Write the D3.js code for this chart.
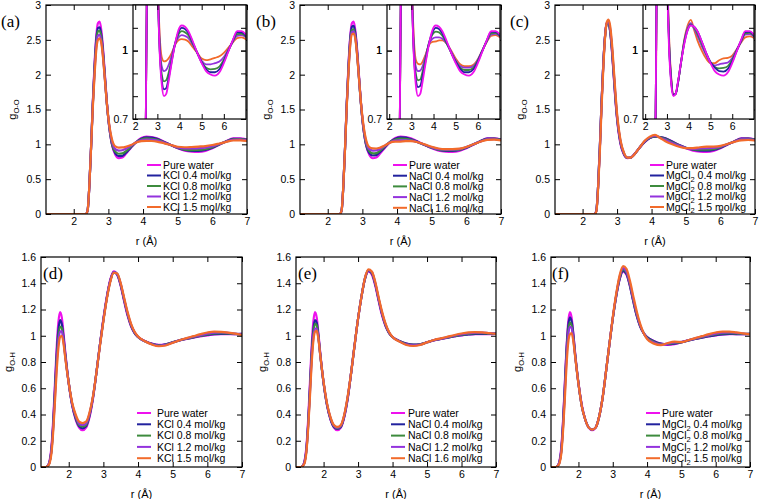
<!DOCTYPE html>
<html><head><meta charset="utf-8">
<script src="https://cdn.jsdelivr.net/npm/d3@7"></script>
<style>body{margin:0;background:#fff}svg{display:block}</style>
</head><body>
<script>
// ---------------- DATA ----------------
const rOO = [1.2,2.35,2.4,2.45,2.5,2.55,2.6,2.65,2.7,2.75,2.8,2.85,2.9,2.95,3.0,3.1,3.2,3.3,3.4,3.5,3.65,3.8,3.95,4.1,4.25,4.4,4.6,4.8,5.0,5.2,5.4,5.6,5.8,6.0,6.2,6.4,6.6,6.8,7.0];
const rOH = [1.2,1.35,1.4,1.45,1.5,1.55,1.6,1.65,1.7,1.75,1.8,1.85,1.9,2.0,2.1,2.2,2.3,2.4,2.5,2.6,2.7,2.8,2.9,3.0,3.1,3.2,3.3,3.4,3.5,3.6,3.7,3.8,3.9,4.0,4.2,4.4,4.6,4.8,5.0,5.2,5.4,5.6,5.8,6.0,6.2,6.4,6.6,6.8,7.0];

const pureOO  = [0,0,0.05,0.4,0.95,1.6,2.15,2.55,2.74,2.76,2.62,2.35,2.0,1.65,1.36,1.0,0.85,0.80,0.81,0.86,0.95,1.03,1.09,1.11,1.105,1.085,1.04,0.99,0.945,0.91,0.895,0.89,0.905,0.945,0.995,1.045,1.085,1.085,1.07];
const kcl04OO = [0,0,0.05,0.4,0.95,1.58,2.1,2.5,2.67,2.68,2.56,2.3,1.97,1.63,1.36,1.01,0.87,0.83,0.835,0.875,0.955,1.03,1.08,1.10,1.095,1.078,1.035,0.99,0.948,0.918,0.905,0.905,0.918,0.952,0.998,1.043,1.08,1.08,1.065];
const kcl08OO = [0,0,0.05,0.4,0.95,1.57,2.07,2.45,2.62,2.63,2.52,2.27,1.95,1.62,1.36,1.02,0.895,0.865,0.87,0.9,0.965,1.03,1.07,1.085,1.08,1.068,1.03,0.99,0.95,0.925,0.918,0.92,0.93,0.96,1.0,1.04,1.072,1.074,1.062];
const kcl12OO = [0,0,0.05,0.4,0.95,1.55,2.03,2.4,2.56,2.57,2.47,2.24,1.93,1.62,1.37,1.05,0.93,0.91,0.915,0.935,0.98,1.03,1.058,1.068,1.064,1.055,1.025,0.99,0.955,0.94,0.94,0.945,0.952,0.972,1.005,1.038,1.065,1.068,1.058];
const kcl15OO = [0,0,0.05,0.4,0.94,1.52,1.98,2.35,2.5,2.52,2.44,2.22,1.92,1.62,1.38,1.08,0.97,0.953,0.955,0.965,0.99,1.025,1.045,1.05,1.048,1.04,1.015,0.99,0.965,0.958,0.962,0.968,0.975,0.99,1.012,1.035,1.055,1.058,1.05];

const nacl04OO = [0,0,0.05,0.4,0.95,1.59,2.12,2.52,2.69,2.70,2.58,2.32,1.98,1.64,1.36,1.01,0.875,0.84,0.845,0.885,0.96,1.035,1.08,1.1,1.095,1.075,1.035,0.99,0.95,0.92,0.905,0.905,0.918,0.952,0.998,1.043,1.082,1.082,1.066];
const nacl08OO = [0,0,0.05,0.4,0.95,1.58,2.09,2.48,2.64,2.65,2.54,2.29,1.96,1.63,1.36,1.02,0.9,0.87,0.873,0.905,0.97,1.035,1.07,1.083,1.08,1.065,1.03,0.99,0.952,0.925,0.915,0.915,0.925,0.957,1.0,1.042,1.076,1.078,1.064];
const nacl12OO = [0,0,0.05,0.4,0.95,1.57,2.07,2.45,2.61,2.62,2.52,2.28,1.96,1.64,1.38,1.05,0.93,0.91,0.912,0.93,0.98,1.03,1.052,1.058,1.058,1.052,1.03,0.995,0.958,0.932,0.925,0.925,0.932,0.96,1.0,1.04,1.07,1.073,1.062];
const nacl16OO = [0,0,0.05,0.4,0.94,1.55,2.04,2.42,2.58,2.59,2.5,2.27,1.96,1.65,1.4,1.08,0.96,0.942,0.94,0.95,0.985,1.025,1.038,1.04,1.045,1.045,1.03,1.0,0.965,0.94,0.932,0.932,0.938,0.962,1.0,1.038,1.065,1.068,1.058];

const mg04OO = [0,0,0.05,0.4,0.95,1.6,2.15,2.55,2.73,2.74,2.62,2.36,2.02,1.67,1.38,1.02,0.86,0.805,0.81,0.855,0.95,1.035,1.09,1.112,1.105,1.085,1.04,0.99,0.95,0.925,0.91,0.908,0.92,0.952,0.998,1.042,1.081,1.082,1.066];
const mg08OO = [0,0,0.05,0.4,0.95,1.6,2.14,2.54,2.73,2.75,2.63,2.38,2.04,1.69,1.39,1.03,0.865,0.805,0.81,0.855,0.95,1.04,1.095,1.115,1.1,1.075,1.03,0.985,0.948,0.928,0.922,0.924,0.932,0.96,1.0,1.04,1.076,1.078,1.064];
const mg12OO = [0,0,0.05,0.39,0.93,1.58,2.13,2.54,2.74,2.77,2.66,2.41,2.07,1.72,1.41,1.04,0.87,0.808,0.81,0.855,0.95,1.045,1.1,1.12,1.095,1.065,1.02,0.98,0.946,0.935,0.94,0.944,0.948,0.968,1.003,1.038,1.07,1.072,1.06];
const mg15OO = [0,0,0.04,0.36,0.88,1.52,2.08,2.52,2.75,2.79,2.7,2.46,2.12,1.76,1.44,1.06,0.88,0.81,0.81,0.855,0.95,1.05,1.11,1.135,1.09,1.045,1.0,0.965,0.945,0.945,0.958,0.966,0.968,0.978,1.005,1.035,1.058,1.062,1.055];

const pureOH  = [0,0,0.01,0.05,0.15,0.35,0.62,0.9,1.1,1.18,1.14,1.02,0.88,0.64,0.47,0.36,0.3,0.28,0.3,0.38,0.52,0.72,0.93,1.13,1.3,1.43,1.49,1.465,1.38,1.26,1.15,1.07,1.02,0.99,0.96,0.94,0.93,0.935,0.95,0.965,0.975,0.985,0.995,1.003,1.01,1.013,1.012,1.012,1.015];
const kcl04OH = [0,0,0.01,0.04,0.13,0.32,0.58,0.85,1.04,1.12,1.09,0.99,0.86,0.64,0.47,0.37,0.31,0.295,0.31,0.39,0.53,0.72,0.93,1.12,1.29,1.42,1.485,1.465,1.385,1.27,1.16,1.075,1.02,0.99,0.958,0.938,0.928,0.935,0.95,0.965,0.977,0.988,0.998,1.006,1.012,1.015,1.014,1.013,1.014];
const kcl08OH = [0,0,0.01,0.04,0.12,0.3,0.55,0.81,0.99,1.07,1.06,0.97,0.85,0.64,0.48,0.38,0.32,0.31,0.32,0.4,0.53,0.72,0.93,1.12,1.29,1.42,1.485,1.47,1.39,1.275,1.165,1.08,1.025,0.99,0.958,0.937,0.926,0.933,0.95,0.966,0.978,0.99,1.0,1.01,1.017,1.02,1.018,1.014,1.012];
const kcl12OH = [0,0,0.01,0.04,0.12,0.29,0.52,0.77,0.95,1.03,1.035,0.96,0.84,0.64,0.48,0.39,0.33,0.32,0.33,0.405,0.535,0.72,0.93,1.12,1.29,1.42,1.485,1.47,1.395,1.28,1.17,1.085,1.028,0.992,0.958,0.935,0.924,0.93,0.948,0.966,0.98,0.993,1.005,1.016,1.024,1.026,1.022,1.016,1.01];
const kcl15OH = [0,0,0.01,0.03,0.1,0.26,0.48,0.72,0.9,0.99,1.0,0.94,0.83,0.64,0.49,0.4,0.345,0.335,0.345,0.415,0.54,0.72,0.92,1.11,1.28,1.41,1.48,1.475,1.4,1.29,1.18,1.09,1.03,0.994,0.958,0.933,0.92,0.926,0.946,0.966,0.982,0.997,1.012,1.025,1.032,1.03,1.024,1.016,1.005];

const nacl04OH = [0,0,0.01,0.04,0.13,0.32,0.58,0.85,1.04,1.12,1.1,1.0,0.87,0.64,0.47,0.365,0.305,0.29,0.305,0.385,0.525,0.72,0.93,1.13,1.3,1.435,1.495,1.475,1.39,1.27,1.16,1.075,1.02,0.99,0.96,0.94,0.932,0.935,0.95,0.966,0.976,0.986,0.996,1.005,1.01,1.014,1.015,1.015,1.016];
const nacl08OH = [0,0,0.01,0.04,0.12,0.31,0.56,0.83,1.01,1.09,1.08,0.99,0.86,0.64,0.475,0.37,0.31,0.295,0.31,0.39,0.53,0.72,0.93,1.13,1.3,1.435,1.498,1.48,1.395,1.275,1.165,1.08,1.022,0.99,0.958,0.937,0.93,0.934,0.95,0.966,0.977,0.988,0.998,1.008,1.015,1.019,1.02,1.018,1.016];
const nacl12OH = [0,0,0.01,0.04,0.12,0.3,0.54,0.8,0.98,1.055,1.055,0.98,0.86,0.645,0.48,0.375,0.315,0.3,0.315,0.395,0.535,0.72,0.93,1.13,1.3,1.44,1.5,1.485,1.4,1.28,1.17,1.085,1.025,0.99,0.957,0.934,0.927,0.932,0.95,0.967,0.978,0.99,1.002,1.012,1.02,1.024,1.024,1.02,1.016];
const nacl16OH = [0,0,0.01,0.03,0.11,0.28,0.51,0.77,0.95,1.03,1.04,0.975,0.86,0.65,0.485,0.38,0.32,0.305,0.32,0.4,0.54,0.72,0.93,1.13,1.3,1.44,1.505,1.49,1.41,1.29,1.18,1.09,1.028,0.99,0.955,0.93,0.922,0.93,0.95,0.968,0.98,0.993,1.006,1.017,1.025,1.028,1.026,1.02,1.014];

const mg04OH = [0,0,0.01,0.04,0.13,0.33,0.6,0.88,1.07,1.14,1.11,1.01,0.87,0.64,0.46,0.36,0.3,0.285,0.3,0.38,0.52,0.72,0.93,1.13,1.3,1.43,1.495,1.47,1.38,1.26,1.15,1.07,1.02,0.99,0.958,0.94,0.935,0.94,0.95,0.963,0.975,0.986,0.996,1.005,1.011,1.014,1.013,1.013,1.015];
const mg08OH = [0,0,0.01,0.04,0.12,0.31,0.57,0.85,1.03,1.1,1.08,0.99,0.86,0.635,0.46,0.36,0.3,0.285,0.3,0.38,0.52,0.72,0.93,1.13,1.305,1.44,1.505,1.48,1.39,1.27,1.16,1.075,1.02,0.985,0.953,0.937,0.937,0.945,0.952,0.965,0.978,0.99,1.0,1.01,1.017,1.02,1.018,1.015,1.014];
const mg12OH = [0,0,0.01,0.04,0.12,0.3,0.55,0.82,1.0,1.07,1.06,0.98,0.855,0.635,0.46,0.36,0.3,0.285,0.3,0.38,0.52,0.72,0.93,1.135,1.31,1.45,1.515,1.49,1.4,1.28,1.17,1.08,1.02,0.98,0.948,0.933,0.94,0.95,0.953,0.966,0.98,0.993,1.005,1.016,1.023,1.025,1.022,1.017,1.013];
const mg15OH = [0,0,0.01,0.03,0.1,0.27,0.5,0.76,0.94,1.01,1.02,0.96,0.85,0.635,0.46,0.36,0.3,0.285,0.3,0.38,0.52,0.72,0.93,1.14,1.32,1.46,1.53,1.51,1.42,1.3,1.185,1.09,1.02,0.975,0.94,0.928,0.945,0.955,0.952,0.966,0.982,0.997,1.012,1.025,1.032,1.032,1.026,1.018,1.01];

const xTickVals = [2,3,4,5,6,7];
const yTicksOO = [0,0.5,1,1.5,2,2.5,3];
const yTicksOH = [0,0.2,0.4,0.6,0.8,1,1.2,1.4,1.6];
const insetXTicks = [2,3,4,5,6];
const insetYTicks = [0.8,0.9,1,1.1];
const insetYLabels = [0.7,1];

const kclNames  = [["Pure water"],["KCl 0.4 mol/kg"],["KCl 0.8 mol/kg"],["KCl 1.2 mol/kg"],["KCl 1.5 mol/kg"]];
const naclNames = [["Pure water"],["NaCl 0.4 mol/kg"],["NaCl 0.8 mol/kg"],["NaCl 1.2 mol/kg"],["NaCl 1.6 mol/kg"]];
const mgNames   = [["Pure water"],["MgCl","2"," 0.4 mol/kg"],["MgCl","2"," 0.8 mol/kg"],["MgCl","2"," 1.2 mol/kg"],["MgCl","2"," 1.5 mol/kg"]];
const panelLabels = ["(a)","(b)","(c)","(d)","(e)","(f)"];
const colors = ["#ee11ee","#22229e","#3d8b3d","#9333dd","#f26b2b"];

// ---------------- LAYOUT ----------------
const W = 762, H = 499;
const FONT = "'Liberation Sans', Arial, sans-serif";
const svg = d3.select("body").append("svg").attr("width", W).attr("height", H)
  .style("font-family", FONT);

const panels = [
  {r:rOO, series:[pureOO,kcl04OO,kcl08OO,kcl12OO,kcl15OO], names:kclNames, x0:46,  x1:247, y0:5, y1:214, yd:[0,3], yt:yTicksOO, ylab:"O-O", ylx:16, inset:{x0:133,x1:246,y0:5,y1:119}, leg:{lx:101, tx:117, ty:165, dy:10.5}, lab:{x:1,y:27}},
  {r:rOO, series:[pureOO,nacl04OO,nacl08OO,nacl12OO,nacl16OO], names:naclNames, x0:300, x1:501, y0:5, y1:214, yd:[0,3], yt:yTicksOO, ylab:"O-O", ylx:270, inset:{x0:387,x1:500,y0:5,y1:119}, leg:{lx:93, tx:109, ty:165, dy:10.7}, lab:{x:256,y:27}},
  {r:rOO, series:[pureOO,mg04OO,mg08OO,mg12OO,mg15OO], names:mgNames, x0:555, x1:755, y0:5, y1:214, yd:[0,3], yt:yTicksOO, ylab:"O-O", ylx:524, inset:{x0:643,x1:754,y0:5,y1:119}, leg:{lx:95, tx:111, ty:165, dy:10.5}, lab:{x:510,y:27}},
  {r:rOH, series:[pureOH,kcl04OH,kcl08OH,kcl12OH,kcl15OH], names:kclNames, x0:41,  x1:242, y0:257, y1:467, yd:[0,1.6], yt:yTicksOH, ylab:"O-H", ylx:12, inset:null, leg:{lx:96, tx:116, ty:413, dy:11.3}, lab:{x:43,y:279}},
  {r:rOH, series:[pureOH,nacl04OH,nacl08OH,nacl12OH,nacl16OH], names:naclNames, x0:296, x1:496, y0:257, y1:467, yd:[0,1.6], yt:yTicksOH, ylab:"O-H", ylx:266, inset:null, leg:{lx:95, tx:112, ty:413, dy:11.3}, lab:{x:298,y:279}},
  {r:rOH, series:[pureOH,mg04OH,mg08OH,mg12OH,mg15OH], names:mgNames, x0:551, x1:750, y0:257, y1:467, yd:[0,1.6], yt:yTicksOH, ylab:"O-H", ylx:521, inset:null, leg:{lx:95, tx:111, ty:413, dy:11.3}, lab:{x:552,y:279}}
];

const mainOrder = [0,1,2,3,4];
const insetOrder = [4,3,2,1,0];
let clipId = 0;

function styleAxis(g){
  g.select(".domain").remove();
  g.selectAll(".tick line").attr("stroke","#000").attr("stroke-width",1);
  g.selectAll(".tick text").attr("fill","#000").style("font-family",FONT).style("font-size","10.5px");
}

function drawFrame(g, x0, x1, y0, y1, xs, ys, xt, yt, yfmt, xlabels, ylabels){
  g.append("g").attr("transform",`translate(0,${y1})`)
    .call(d3.axisBottom(xs).tickValues(xt).tickSizeInner(-5).tickSizeOuter(0).tickPadding(4)
      .tickFormat(d => xlabels.includes(d) ? String(d) : ""))
    .call(styleAxis);
  g.append("g").attr("transform",`translate(0,${y0})`)
    .call(d3.axisTop(xs).tickValues(xt).tickSizeInner(-5).tickSizeOuter(0).tickFormat(""))
    .call(styleAxis);
  g.append("g").attr("transform",`translate(${x0},0)`)
    .call(d3.axisLeft(ys).tickValues(yt).tickSizeInner(-5).tickSizeOuter(0).tickPadding(5)
      .tickFormat(d => ylabels.includes(d) ? yfmt(d) : ""))
    .call(styleAxis);
  g.append("g").attr("transform",`translate(${x1},0)`)
    .call(d3.axisRight(ys).tickValues(yt).tickSizeInner(-5).tickSizeOuter(0).tickFormat(""))
    .call(styleAxis);
}

function drawCurves(g, r, series, xs, ys, x0, x1, y0, y1, width, order){
  const id = "clip" + (clipId++);
  g.append("clipPath").attr("id", id).append("rect")
    .attr("x", x0).attr("y", y0).attr("width", x1 - x0).attr("height", y1 - y0);
  const line = d3.line().x(d => xs(d[0])).y(d => ys(d[1])).curve(d3.curveMonotoneX);
  const cg = g.append("g").attr("clip-path", `url(#${id})`);
  order.forEach(i => {
    const pts = r.map((rv, k) => [rv, series[i][k]]);
    cg.append("path").attr("d", line(pts)).attr("fill","none")
      .attr("stroke", colors[i]).attr("stroke-width", width)
      .attr("stroke-linejoin","round").attr("stroke-linecap","round");
  });
}

panels.forEach((p, pi) => {
  const g = svg.append("g");
  const xs = d3.scaleLinear().domain([1.2, 7]).range([p.x0, p.x1]);
  const ys = d3.scaleLinear().domain(p.yd).range([p.y1, p.y0]);

  drawCurves(g, p.r, p.series, xs, ys, p.x0, p.x1, p.y0, p.y1, 2.2, mainOrder);
  g.append("rect").attr("x",p.x0).attr("y",p.y0).attr("width",p.x1-p.x0).attr("height",p.y1-p.y0)
    .attr("fill","none").attr("stroke","#000").attr("stroke-width",1.2);
  drawFrame(g, p.x0, p.x1, p.y0, p.y1, xs, ys, xTickVals, p.yt, d => String(d), xTickVals, p.yt);

  g.append("text").attr("x",(p.x0+p.x1)/2).attr("y",p.y1+31).attr("text-anchor","middle")
    .style("font-size","11px").text("r (Å)");
  const yl = g.append("text").attr("transform",`translate(${p.ylx},${(p.y0+p.y1)/2}) rotate(-90)`)
    .attr("text-anchor","middle").style("font-size","11px");
  yl.append("tspan").text("g");
  yl.append("tspan").attr("dy","3").style("font-size","7.5px").text(p.ylab);

  g.append("text").attr("x",p.lab.x).attr("y",p.lab.y)
    .style("font-family","'Liberation Serif','Times New Roman',serif").style("font-size","17px")
    .text(panelLabels[pi]);

  p.names.forEach((nm, i) => {
    const yy = p.leg.ty + i * p.leg.dy;
    g.append("line").attr("x1",p.x0+p.leg.lx).attr("x2",p.x0+p.leg.lx+14).attr("y1",yy).attr("y2",yy)
      .attr("stroke",colors[i]).attr("stroke-width",2);
    const t = g.append("text").attr("x",p.x0+p.leg.tx).attr("y",yy+3.8).style("font-size","10.5px");
    t.append("tspan").text(nm[0]);
    if (nm.length > 1) {
      t.append("tspan").attr("dy","2.5").style("font-size","7.5px").text(nm[1]);
      t.append("tspan").attr("dy","-2.5").text(nm[2]);
    }
  });

  if (p.inset) {
    const q = p.inset;
    const ig = g.append("g");
    ig.append("rect").attr("x",q.x0).attr("y",q.y0).attr("width",q.x1-q.x0).attr("height",q.y1-q.y0).attr("fill","#fff");
    const ixs = d3.scaleLinear().domain([1.9, 7]).range([q.x0, q.x1]);
    const iys = d3.scaleLinear().domain([0.7, 1.2]).range([q.y1, q.y0]);
    drawCurves(ig, p.r, p.series, ixs, iys, q.x0, q.x1, q.y0, q.y1, 1.8, insetOrder);
    ig.append("rect").attr("x",q.x0).attr("y",q.y0).attr("width",q.x1-q.x0).attr("height",q.y1-q.y0)
      .attr("fill","none").attr("stroke","#000").attr("stroke-width",1.2);
    drawFrame(ig, q.x0, q.x1, q.y0, q.y1, ixs, iys, insetXTicks, insetYTicks.concat(insetYLabels), d => String(d), insetXTicks, insetYLabels);
  }
});
</script>
</body></html>
